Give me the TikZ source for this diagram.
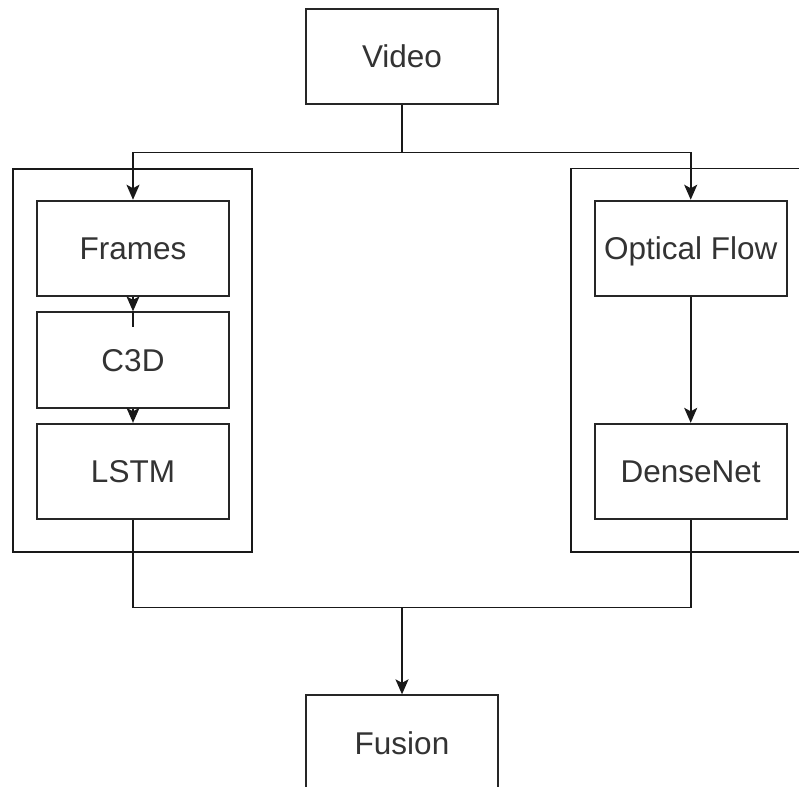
\documentclass[tikz,border=0pt]{standalone}
\usepackage{fontspec}
\setmainfont{Liberation Sans}
\usetikzlibrary{arrows.meta}
\begin{document}
\begin{tikzpicture}[x=1pt,y=-1pt,
  line width=1.8pt,
  box/.style={draw=black!85, fill=white, minimum width=192pt, minimum height=95.5pt,
    inner sep=0pt, text height=22.6pt, text depth=0pt,
    font=\fontsize{31.5}{36}\selectfont, text=black!80},
  group/.style={draw=black!90, inner sep=0pt},
  link/.style={draw=black!90},
  arr/.style={link, -{Stealth[length=15pt,width=13pt,inset=3.5pt]}}]
\useasboundingbox (0,0) rectangle (799,786);
\clip (0,0) rectangle (799,786);

% two branch containers
\node[group, minimum width=238.7pt, minimum height=382.7pt] (leftgrp) at (132.3,360.3) {};
\node[group, minimum width=260pt, minimum height=383pt] (rightgrp) at (701,360.1) {};

% processing blocks
\node[box] (video)  at (402,56.5)  {Video};
\node[box] (frames) at (133,248.4) {Frames};
\node[box] (c3d)    at (133,360)   {C3D};
\node[box] (lstm)   at (133,471.5) {LSTM};
\node[box] (oflow)  at (690.7,248.4) {Optical Flow};
\node[box] (dense)  at (690.7,471.5) {DenseNet};
\node[box] (fusion) at (402,743)   {Fusion};

% split from the video into both streams
\coordinate (split) at (402,152.5);
\draw[link] (video.south) -- (split);
\draw[arr] (split) -| (frames.north);
\draw[arr] (split) -| (oflow.north);

% left stream
\draw[arr] (frames.south) -- (c3d.north);
\draw[link] (c3d.north) -- ++(0,16);
\draw[arr] (c3d.south) -- (lstm.north);

% right stream
\draw[arr] (oflow.south) -- (dense.north);

% merge into fusion
\coordinate (merge) at (402,607.5);
\draw[link] (lstm.south) |- (merge) -| (dense.south);
\draw[arr] (merge) -- (fusion.north);
\end{tikzpicture}
\end{document}
